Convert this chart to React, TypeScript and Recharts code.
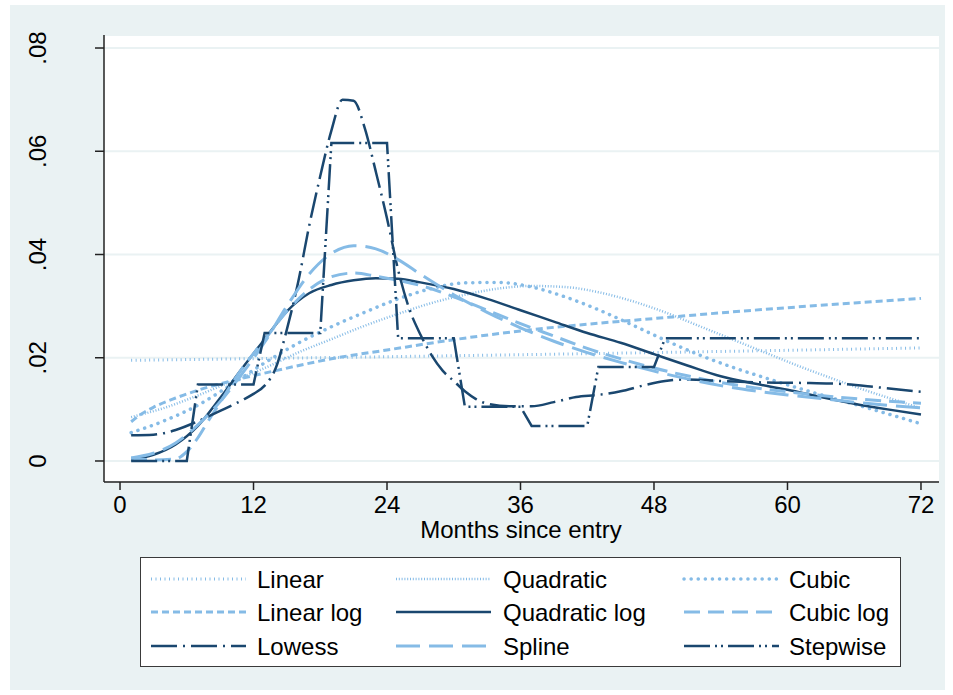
import React from 'react';
import { LineChart, Line, XAxis, YAxis, CartesianGrid } from 'recharts';

const NAVY = '#1a476f';
const LIGHT = '#85bbe6';
const BG = '#eaf2f3';
const FONT = '"Liberation Sans", Arial, sans-serif';

const monthTicks = [0, 12, 24, 36, 48, 60, 72];
const hazardTicks = [0, 0.02, 0.04, 0.06, 0.08];

// [month, hazard] pairs for each fitted model
const linear = [[1, 0.0195], [24, 0.0202], [48, 0.021], [72, 0.0219]];

const quadratic = [
  [1, 0.0085], [4, 0.0103], [7, 0.0127], [10, 0.0154], [13, 0.018], [16, 0.021],
  [19, 0.0236], [22, 0.0262], [25, 0.0285], [28, 0.0306], [31, 0.0322], [34, 0.0334],
  [37, 0.0339], [40, 0.0337], [43, 0.0327], [46, 0.031], [49, 0.0288], [52, 0.0262],
  [55, 0.0236], [58, 0.021], [61, 0.0184], [64, 0.016], [67, 0.0137], [70, 0.0116], [72, 0.0102],
];

const cubic = [
  [1, 0.0055], [4, 0.0078], [7, 0.0108], [10, 0.0148], [13, 0.019], [16, 0.0228],
  [19, 0.026], [22, 0.0288], [25, 0.0314], [28, 0.0334], [31, 0.0345], [34, 0.0346],
  [37, 0.0337], [40, 0.0318], [43, 0.0293], [46, 0.0264], [49, 0.0234], [52, 0.0206],
  [55, 0.0182], [58, 0.0161], [61, 0.0141], [64, 0.0122], [67, 0.0104], [70, 0.0085], [72, 0.0072],
];

const linearLog = [
  [1, 0.0076], [2, 0.0092], [3, 0.0104], [5, 0.0122], [7, 0.0137], [10, 0.0155],
  [14, 0.0175], [19, 0.0198], [24, 0.0215], [30, 0.0235], [36, 0.0252], [42, 0.0265],
  [48, 0.0276], [54, 0.0287], [60, 0.0297], [66, 0.0306], [72, 0.0315],
];

const quadraticLog = [
  [1, 0.0003], [3, 0.0012], [5, 0.0032], [7, 0.0068], [9, 0.0122], [11, 0.018],
  [13, 0.0236], [15, 0.029], [17, 0.0325], [19, 0.0341], [21, 0.035], [23, 0.0354],
  [25, 0.0353], [27, 0.0346], [30, 0.0333], [33, 0.0314], [36, 0.0292], [39, 0.027],
  [42, 0.0248], [45, 0.0229], [48, 0.0207], [51, 0.0185], [54, 0.0164], [57, 0.015],
  [60, 0.0138], [63, 0.0124], [66, 0.0111], [69, 0.01], [72, 0.009],
];

const cubicLog = [
  [1, 0.0006], [3, 0.0002], [5, 0.0004], [6, 0.0018], [7, 0.0045], [8, 0.008],
  [9, 0.0113], [10, 0.0148], [11, 0.018], [12, 0.0208], [13, 0.0235], [15, 0.029],
  [17, 0.0332], [19, 0.0357], [21, 0.0364], [23, 0.0358], [25, 0.035], [27, 0.034],
  [30, 0.0318], [33, 0.0292], [36, 0.0266], [39, 0.0242], [42, 0.0218], [45, 0.0198],
  [48, 0.018], [51, 0.0165], [54, 0.0152], [57, 0.0142], [60, 0.0134], [63, 0.0127],
  [66, 0.0121], [69, 0.0116], [72, 0.0112],
];

const lowess = [
  [1, 0.005], [3, 0.0051], [5, 0.006], [7, 0.0077], [9, 0.0097], [11, 0.0118], [12, 0.013],
  [13, 0.0146], [14, 0.018], [15, 0.0255], [16, 0.0345], [17, 0.0455], [18, 0.0552],
  [19, 0.064], [20, 0.07], [21, 0.0698], [22, 0.0645], [23, 0.056], [24, 0.047],
  [25, 0.037], [26, 0.0295], [27, 0.0245], [28, 0.0205], [29, 0.0175], [30, 0.0155],
  [31, 0.0135], [32, 0.012], [33, 0.0111], [35, 0.0106], [37, 0.0106], [39, 0.0114],
  [41, 0.0124], [43, 0.0128], [45, 0.0135], [47, 0.0146], [49, 0.0155], [51, 0.0158],
  [54, 0.0155], [58, 0.0152], [62, 0.0151], [65, 0.0149], [68, 0.0143], [72, 0.0134],
];

const spline = [
  [1, 0.0006], [3, 0.0015], [5, 0.0035], [7, 0.007], [9, 0.0115], [11, 0.017],
  [13, 0.023], [15, 0.03], [17, 0.0362], [19, 0.0402], [21, 0.0417], [23, 0.0411],
  [25, 0.039], [27, 0.0362], [30, 0.0322], [33, 0.0288], [36, 0.0258], [39, 0.0232],
  [42, 0.021], [45, 0.0191], [48, 0.0174], [51, 0.0159], [54, 0.0146], [57, 0.0136],
  [60, 0.0128], [63, 0.0121], [66, 0.0114], [69, 0.0108], [72, 0.0103],
];

// piecewise-constant hazard, one point at each end of every step
const stepwise = [
  [1, 0], [6, 0], [7, 0.0148], [12, 0.0148], [13, 0.0248], [18, 0.0248],
  [19, 0.0616], [24, 0.0616], [25, 0.0238], [30, 0.0238], [31, 0.0105], [36, 0.0105],
  [37, 0.0068], [42, 0.0068], [43, 0.0182], [48, 0.0182], [49, 0.0238], [72, 0.0238],
];

const toPoints = (rows: number[][]) => rows.map(([m, h]) => ({ m, h }));

type Series = {
  name: string;
  rows: number[][];
  color: string;
  width: number;
  dash?: string;
  cap?: 'butt' | 'round';
  curve: 'monotone' | 'linear';
};

// legend order (row by row, three columns)
const series: Series[] = [
  { name: 'Linear', rows: linear, color: LIGHT, width: 3, dash: '1 3.5', curve: 'monotone' },
  { name: 'Quadratic', rows: quadratic, color: LIGHT, width: 2.5, dash: '1 1.8', curve: 'monotone' },
  { name: 'Cubic', rows: cubic, color: LIGHT, width: 3.5, dash: '0.1 7', cap: 'round', curve: 'monotone' },
  { name: 'Linear log', rows: linearLog, color: LIGHT, width: 3, dash: '7 4', curve: 'monotone' },
  { name: 'Quadratic log', rows: quadraticLog, color: NAVY, width: 2.5, curve: 'monotone' },
  { name: 'Cubic log', rows: cubicLog, color: LIGHT, width: 3, dash: '16 8', curve: 'monotone' },
  { name: 'Lowess', rows: lowess, color: NAVY, width: 2.5, dash: '26 6 2 6', curve: 'monotone' },
  { name: 'Spline', rows: spline, color: LIGHT, width: 3, dash: '24 9', curve: 'monotone' },
  { name: 'Stepwise', rows: stepwise, color: NAVY, width: 2.5, dash: '26 5 2 4 2 5', curve: 'linear' },
];

const fmtHazard = (v: number) => (v === 0 ? '0' : v.toFixed(2).replace(/^0/, ''));

const HazardTick = (props: any) => {
  const { y, payload } = props;
  return (
    <text
      transform={`translate(37,${y}) rotate(-90)`}
      textAnchor="middle"
      dominantBaseline="central"
      fontSize={24}
      fontFamily={FONT}
      fill="#000"
    >
      {fmtHazard(payload.value)}
    </text>
  );
};

const MonthTick = (props: any) => {
  const { x, y, payload } = props;
  return (
    <text x={x} y={y + 12} textAnchor="middle" dominantBaseline="central" fontSize={24} fontFamily={FONT} fill="#000">
      {payload.value}
    </text>
  );
};

const LegendBox = () => {
  const colKey = [10, 255, 543];
  const colText = [116, 362, 648];
  const rowY = [21, 54, 88];
  return (
    <div
      style={{
        position: 'absolute',
        left: 140,
        top: 557,
        width: 761,
        height: 110,
        boxSizing: 'border-box',
        background: '#fff',
        border: '1px solid #3a3a3a',
      }}
    >
      <svg width={759} height={108}>
        {series.map((s, i) => {
          const c = i % 3;
          const r = Math.floor(i / 3);
          return (
            <g key={s.name}>
              <line
                x1={colKey[c]}
                x2={colKey[c] + 95}
                y1={rowY[r]}
                y2={rowY[r]}
                stroke={s.color}
                strokeWidth={s.width}
                strokeDasharray={s.dash}
                strokeLinecap={s.cap ?? 'butt'}
              />
              <text x={colText[c]} y={rowY[r]} dominantBaseline="central" fontSize={24} fontFamily={FONT} fill="#000">
                {s.name}
              </text>
            </g>
          );
        })}
      </svg>
    </div>
  );
};

export default function App() {
  return (
    <div style={{ position: 'absolute', left: 0, top: 0, width: 953, height: 695, background: '#fff' }}>
      <div style={{ position: 'absolute', left: 10, top: 5, width: 935, height: 685, background: BG }} />
      <LineChart
        width={953}
        height={695}
        margin={{ top: 35, right: 14, bottom: 163, left: 0 }}
        style={{ position: 'absolute', left: 0, top: 0 }}
      >
        <CartesianGrid vertical={false} fill="#fff" stroke={BG} strokeWidth={2} />
        <XAxis
          dataKey="m"
          type="number"
          domain={[-1.44, 73.62]}
          allowDataOverflow
          ticks={monthTicks}
          height={50}
          tickSize={8}
          tick={<MonthTick />}
          axisLine={{ stroke: '#222', strokeWidth: 1.5 }}
          tickLine={{ stroke: '#222', strokeWidth: 1.5 }}
        />
        <YAxis
          dataKey="h"
          type="number"
          domain={[-0.00407, 0.08252]}
          allowDataOverflow
          ticks={hazardTicks}
          width={104}
          tickSize={9}
          tick={<HazardTick />}
          axisLine={{ stroke: '#222', strokeWidth: 1.5 }}
          tickLine={{ stroke: '#222', strokeWidth: 1.5 }}
        />
        {series.map((s) => (
          <Line
            key={s.name}
            data={toPoints(s.rows)}
            dataKey="h"
            name={s.name}
            type={s.curve}
            stroke={s.color}
            strokeWidth={s.width}
            strokeDasharray={s.dash}
            strokeLinecap={s.cap ?? 'butt'}
            dot={false}
            activeDot={false}
            isAnimationActive={false}
          />
        ))}
      </LineChart>
      <div
        style={{
          position: 'absolute',
          left: 0,
          width: 1042,
          top: 517,
          textAlign: 'center',
          fontFamily: FONT,
          fontSize: 24,
          lineHeight: '26px',
          color: '#000',
        }}
      >
        Months since entry
      </div>
      <LegendBox />
    </div>
  );
}
